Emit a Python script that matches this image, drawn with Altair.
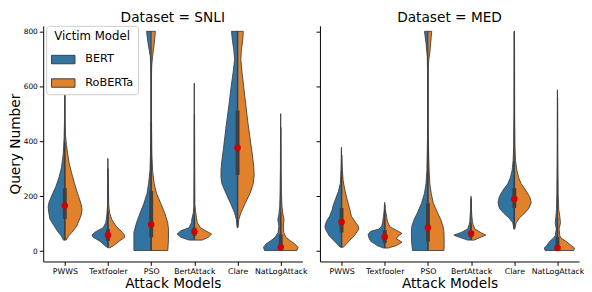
import altair as alt
import pandas as pd

ATTACKS = ['PWWS', 'Textfooler', 'PSO', 'BertAttack', 'Clare', 'NatLogAttack']
MODELS = ['BERT', 'RoBERTa']
DATASETS = ['SNLI', 'MED']

# density profiles: (query number, relative half-width)
SNLI_PWWS_BERT = [(40,0.08),(55,0.2),(68,0.37),(91,0.61),(115,0.85),(140,0.93),(162,0.96),(174,0.93),(195,0.8),(210,0.70),(234,0.52),(269,0.33),(305,0.19),(353,0.09),(412,0.04),(471,0.02),(614,0.01)]
SNLI_PWWS_ROBERTA = [(40,0.08),(55,0.22),(68,0.41),(91,0.69),(127,0.93),(151,1.0),(174,0.93),(210,0.74),(246,0.56),(281,0.41),(317,0.26),(353,0.17),(388,0.09),(424,0.04),(471,0.02),(600,0.01)]
SNLI_TEXTFOOLER_BERT = [(14,0.05),(20,0.19),(36,0.46),(50,0.85),(58,0.93),(68,0.78),(85,0.28),(103,0.13),(127,0.07),(163,0.03),(250,0.02),(337,0.01)]
SNLI_TEXTFOOLER_ROBERTA = [(12,0.1),(18,0.28),(36,0.65),(50,0.96),(58,0.96),(68,0.83),(91,0.46),(115,0.22),(139,0.09),(170,0.04),(250,0.02),(300,0.01)]
SNLI_PSO_BERT = [(2,1.0),(30,1.0),(68,1.0),(103,0.85),(139,0.64),(174,0.42),(210,0.24),(246,0.15),(293,0.07),(353,0.04),(471,0.02),(600,0.02),(680,0.03),(709,0.05),(756,0.18),(800,0.27)]
SNLI_PSO_ROBERTA = [(2,0.96),(42,1.0),(80,1.0),(103,0.96),(139,0.78),(174,0.55),(210,0.31),(246,0.17),(293,0.08),(353,0.04),(471,0.02),(640,0.02),(674,0.03),(709,0.08),(756,0.18),(800,0.24)]
SNLI_BERTATTACK_BERT = [(40,0.3),(50,0.78),(62,1.0),(74,0.78),(85,0.31),(103,0.17),(121,0.13),(139,0.06),(163,0.03),(300,0.02),(611,0.01)]
SNLI_BERTATTACK_ROBERTA = [(40,0.45),(50,0.8),(62,1.0),(74,0.65),(85,0.35),(103,0.17),(121,0.12),(145,0.07),(170,0.03),(300,0.02),(500,0.01)]
SNLI_CLARE_BERT = [(86,0.02),(115,0.07),(139,0.17),(174,0.41),(210,0.67),(246,0.91),(269,0.96),(293,0.96),(329,0.91),(376,0.81),(424,0.72),(471,0.63),(531,0.5),(590,0.39),(649,0.26),(697,0.17),(733,0.22),(768,0.30),(800,0.35)]
SNLI_CLARE_ROBERTA = [(86,0.02),(115,0.07),(139,0.19),(174,0.44),(210,0.72),(246,0.91),(275,0.96),(305,0.94),(353,0.85),(412,0.72),(471,0.59),(531,0.48),(590,0.37),(649,0.26),(697,0.19),(733,0.22),(768,0.30),(800,0.33)]
SNLI_NATLOGATTACK_BERT = [(2,0.94),(14,1.0),(26,0.85),(38,0.57),(50,0.33),(68,0.15),(91,0.11),(115,0.17),(133,0.11),(163,0.06),(210,0.04),(300,0.02),(500,0.01)]
SNLI_NATLOGATTACK_ROBERTA = [(2,0.93),(14,1.0),(26,0.81),(38,0.54),(50,0.30),(68,0.17),(91,0.15),(115,0.19),(133,0.13),(163,0.07),(210,0.04),(300,0.02),(450,0.01)]

MED_PWWS_BERT = [(14,0.07),(36,0.41),(56,0.72),(80,0.93),(91,0.96),(109,0.87),(127,0.69),(151,0.54),(163,0.5),(186,0.37),(216,0.19),(246,0.07),(281,0.04),(330,0.02),(378,0.01)]
MED_PWWS_ROBERTA = [(14,0.1),(36,0.43),(56,0.74),(80,1.0),(91,0.96),(109,0.76),(127,0.57),(151,0.48),(186,0.33),(222,0.19),(258,0.09),(293,0.05),(350,0.02)]
MED_TEXTFOOLER_BERT = [(11,0.07),(20,0.44),(36,0.81),(47,0.91),(61,0.96),(72,0.81),(80,0.35),(91,0.17),(109,0.11),(127,0.07),(150,0.03),(177,0.01)]
MED_TEXTFOOLER_ROBERTA = [(11,0.2),(20,0.67),(32,1.0),(45,0.67),(54,0.76),(64,1.0),(76,0.67),(88,0.3),(109,0.15),(127,0.11),(150,0.03),(170,0.01)]
MED_PSO_BERT = [(2,0.89),(30,0.94),(68,0.96),(91,0.93),(115,0.8),(139,0.61),(174,0.37),(210,0.2),(246,0.11),(293,0.06),(353,0.04),(450,0.02),(650,0.02),(709,0.04),(756,0.11),(800,0.2)]
MED_PSO_ROBERTA = [(2,0.93),(30,0.94),(68,0.93),(91,0.87),(115,0.74),(139,0.56),(174,0.31),(210,0.19),(246,0.11),(293,0.07),(353,0.04),(450,0.02),(670,0.02),(697,0.05),(733,0.13),(780,0.19),(800,0.22)]
MED_BERTATTACK_BERT = [(40,0.2),(50,0.67),(58,1.0),(68,0.57),(80,0.2),(97,0.11),(109,0.07),(127,0.06),(150,0.03),(199,0.01)]
MED_BERTATTACK_ROBERTA = [(40,0.17),(50,0.54),(58,0.85),(68,0.54),(80,0.22),(97,0.11),(109,0.07),(130,0.04),(150,0.02),(190,0.01)]
MED_CLARE_BERT = [(80,0.02),(103,0.09),(121,0.31),(139,0.63),(157,0.87),(177,0.94),(198,0.87),(222,0.65),(246,0.37),(269,0.22),(293,0.13),(329,0.07),(376,0.04),(500,0.02),(800,0.01)]
MED_CLARE_ROBERTA = [(80,0.02),(103,0.11),(121,0.3),(139,0.61),(157,0.85),(177,0.98),(198,0.89),(222,0.65),(246,0.39),(269,0.24),(293,0.15),(329,0.07),(376,0.04),(500,0.02),(800,0.01)]
MED_NATLOGATTACK_BERT = [(2,0.72),(11,0.76),(20,0.63),(36,0.44),(47,0.24),(56,0.13),(80,0.07),(103,0.13),(127,0.09),(151,0.06),(210,0.04),(350,0.02),(587,0.01)]
MED_NATLOGATTACK_ROBERTA = [(2,0.94),(11,0.98),(20,0.8),(36,0.48),(47,0.2),(56,0.13),(80,0.09),(103,0.17),(127,0.13),(151,0.07),(210,0.04),(350,0.02),(560,0.01)]

# inner box stats per attack (both models together) and the red markers
SNLI_Q1 = [117, 37, 50, 55, 277, 5]
SNLI_Q3 = [229, 80, 219, 85, 512, 60]
SNLI_LO = [40, 14, 2, 40, 86, 2]
SNLI_HI = [395, 145, 470, 130, 800, 140]
SNLI_MARK = [165, 58, 97, 71, 376, 14]
MED_Q1 = [68, 29, 35, 50, 157, 5]
MED_Q3 = [157, 77, 174, 70, 229, 51]
MED_LO = [14, 11, 2, 40, 80, 2]
MED_HI = [290, 150, 380, 100, 330, 120]
MED_MARK = [106, 52, 85, 64, 190, 11]

COLORS = ['#3274a1', '#e1812c']
EDGE = '#3f3f3f'
FONT = 'DejaVu Sans'
W, H = 265, 241


def outline_frame(ds, a, m, idx, sign):
    prof = globals()[f"{ds}_{a.upper()}_{m.upper()}"]
    vmin, vmax = prof[0][0], prof[-1][0]
    pts = [(vmin, 0.0)] + list(prof) + [(vmax, 0.0), (vmin, 0.0)]
    return pd.DataFrame({'value': [p[0] for p in pts],
                         'w': [p[1] for p in pts],
                         'seq': list(range(len(pts))),
                         'idx': idx, 'sign': sign})


stats = {'SNLI': (SNLI_Q1, SNLI_Q3, SNLI_LO, SNLI_HI, SNLI_MARK),
         'MED': (MED_Q1, MED_Q3, MED_LO, MED_HI, MED_MARK)}

xscale = alt.Scale(domain=[-0.5, len(ATTACKS) - 0.5], nice=False, zero=False)
yscale = alt.Scale(domain=[-38, 820], nice=False, zero=False)
cscale = alt.Scale(domain=MODELS, range=COLORS)
ATT_JS = "[" + ",".join(f"'{a}'" for a in ATTACKS) + "]"


def panel(ds, first):
    xaxis = alt.Axis(title='Attack Models', values=list(range(len(ATTACKS))),
                     labelExpr=f"{ATT_JS}[datum.value]", grid=False,
                     labelFlush=False, labelOverlap=False, labelAngle=0,
                     titleFontSize=14, titlePadding=2, labelFontSize=8)
    if first:
        yaxis = alt.Axis(title='Query Number', values=list(range(0, 801, 100)), grid=False,
                         titleFontSize=14, titlePadding=1, labelFontSize=7.6)
    else:
        yaxis = alt.Axis(title=None, values=list(range(0, 801, 100)), grid=False, labels=False)

    layers = []
    for i, a in enumerate(ATTACKS):
        for mi, m in enumerate(MODELS):
            df = outline_frame(ds, a, m, i, -1 if m == 'BERT' else 1)
            base = alt.Chart(df).transform_calculate(
                xs="datum.idx + datum.sign * datum.w * 0.4"
            )
            fill_lay = base.mark_line(filled=True, fill=COLORS[mi], strokeWidth=0,
                                      strokeOpacity=0, interpolate='linear').encode(
                x=alt.X('xs:Q', scale=xscale, axis=xaxis),
                y=alt.Y('value:Q', scale=yscale, axis=yaxis),
                order=alt.Order('seq:Q'),
            )
            edge_lay = base.mark_line(color=EDGE, strokeWidth=0.9,
                                      interpolate='linear').encode(
                x=alt.X('xs:Q', scale=xscale),
                y=alt.Y('value:Q', scale=yscale),
                order=alt.Order('seq:Q'),
            )
            layers.extend([fill_lay, edge_lay])

    q1, q3, lo, hi, mk = stats[ds]
    df_b = pd.DataFrame({'idx': list(range(len(ATTACKS))), 'q1': q1, 'q3': q3,
                         'lo': lo, 'hi': hi, 'mark': mk})
    base_b = alt.Chart(df_b)
    layers.append(base_b.mark_rule(color=EDGE, strokeWidth=1.5).encode(
        x=alt.X('idx:Q', scale=xscale), y=alt.Y('lo:Q', scale=yscale), y2='hi:Q'))
    layers.append(base_b.mark_rule(color=EDGE, strokeWidth=4).encode(
        x=alt.X('idx:Q', scale=xscale), y=alt.Y('q1:Q', scale=yscale), y2='q3:Q'))
    layers.append(base_b.mark_circle(color='#cc0000', size=45, opacity=1).encode(
        x=alt.X('idx:Q', scale=xscale), y=alt.Y('mark:Q', scale=yscale)))

    if first:
        legend = alt.Legend(title='Victim Model', orient='none', legendX=3, legendY=0,
                            symbolType='M-1,-0.36L1,-0.36L1,0.36L-1,0.36Z', symbolSize=576,
                            symbolStrokeColor=EDGE, symbolStrokeWidth=1, symbolOpacity=1,
                            fillColor='white', strokeColor='#cccccc', cornerRadius=3,
                            padding=5, titleFontSize=12, labelFontSize=11.5,
                            titleFontWeight='normal', titleAnchor='middle', titlePadding=5,
                            rowPadding=5, labelOffset=10, labelColor='black', titleColor='black')
        leg = alt.Chart(pd.DataFrame({'model': MODELS})).mark_rect(strokeWidth=0).encode(
            x=alt.value(0), x2=alt.value(0), y=alt.value(0), y2=alt.value(0),
            fill=alt.Fill('model:N', scale=cscale, legend=legend))
        layers.append(leg)

    return alt.layer(*layers).properties(
        width=W, height=H,
        title=alt.TitleParams(f'Dataset = {ds}', fontSize=14, font=FONT,
                              fontWeight='normal', color='black', offset=1))


chart = alt.hconcat(panel('SNLI', True), panel('MED', False), spacing=18,
                    bounds='flush').properties(
    padding=0
).configure_view(strokeWidth=0).configure_axis(
    labelFont=FONT, titleFont=FONT, labelColor='black', titleColor='black',
    titleFontWeight='normal', domainColor='black', tickColor='black',
    tickSize=4, labelPadding=2, domainWidth=1, tickWidth=1
).configure_legend(labelFont=FONT, titleFont=FONT)

chart.save("out.html", embed_options={"renderer": "svg", "actions": False})
